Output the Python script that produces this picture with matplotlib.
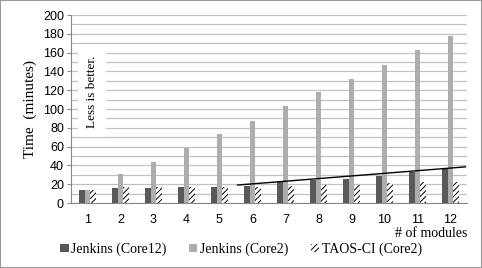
import numpy as np
import matplotlib
matplotlib.use("Agg")
import matplotlib.pyplot as plt
from matplotlib.patches import Rectangle

# values (minutes)
modules = [1, 2, 3, 4, 5, 6, 7, 8, 9, 10, 11, 12]
jenkins_core12 = [14, 16, 16, 17, 17, 18.5, 22, 24, 25.5, 29, 32.5, 36]
jenkins_core2 = [14, 31, 43.5, 59, 73, 87.5, 103, 118, 132, 147, 163, 178]
taos_core2 = [14, 16.5, 16.5, 17, 17, 17.5, 18, 19.5, 19.5, 21, 22.5, 22.5]
series_names = ["Jenkins (Core12)", "Jenkins (Core2)", "TAOS-CI (Core2)"]

serif = "Liberation Serif"
sans = "Liberation Sans"
plt.rcParams["hatch.linewidth"] = 0.7

fig = plt.figure(figsize=(4.82, 2.68), dpi=100)
ax = fig.add_axes([0.147, 0.2425, 0.822, 0.7015])

x = np.arange(len(modules))
w = 0.165
ax.bar(x - w, jenkins_core12, w, color="#595959", label=series_names[0], zorder=3)
ax.bar(x, jenkins_core2, w, color="#adadad", label=series_names[1], zorder=3)
ax.bar(x + w, taos_core2, w, color="white", edgecolor="black", linewidth=0,
       hatch="//////", label=series_names[2], zorder=3)

# linear trend of Core12 for the larger module counts
sel = np.array(modules) >= 6
k, b = np.polyfit(np.array(modules)[sel], np.array(jenkins_core12)[sel], 1)
tx = np.array([5.55, 12.45])
ax.plot(tx - 1, k * tx + b + 2, color="black", linewidth=1, zorder=4)

ax.set_xlim(-0.5, len(modules) - 0.5)
ax.set_ylim(0, 200)
ax.set_yticks(range(0, 201, 20))
ax.set_yticks(range(0, 201, 10), minor=True)
ax.grid(axis="y", which="both", color="#c0c0c0", linewidth=0.9, zorder=0)
ax.set_xticks(x)
ax.set_xticklabels([str(m) for m in modules], fontfamily=sans, fontsize=9)
for lab in ax.get_yticklabels():
    lab.set_fontfamily(sans)
    lab.set_fontsize(9)
ax.tick_params(axis="x", length=0, pad=8)
ax.tick_params(axis="y", which="major", length=3, color="#888888", pad=2)
ax.tick_params(axis="y", which="minor", length=0)
for s in ["top", "right"]:
    ax.spines[s].set_visible(False)
ax.spines["left"].set_color("#888888")
ax.spines["bottom"].set_color("#888888")

ax.set_ylabel("Time  (minutes)", fontfamily=serif, fontsize=11, labelpad=4)
ax.text(1.0, -0.128, "# of modules", transform=ax.transAxes, fontfamily=serif,
        fontsize=10, ha="right", va="top")

ax.text(0.14, 118, "Less is better.", rotation=90, fontfamily=serif, fontsize=9.5,
        ha="center", va="center", zorder=5,
        bbox=dict(facecolor="white", edgecolor="none", pad=6))

fig.legend(loc="center", bbox_to_anchor=(0.5, 0.07), ncol=3, frameon=False,
           prop={"family": serif, "size": 10}, handlelength=0.6, handleheight=0.6,
           handletextpad=0.2, columnspacing=1.6)

fig.patches.append(Rectangle((0, 0), 1, 1, transform=fig.transFigure, fill=False,
                             edgecolor="#999999", linewidth=1.5))

fig.savefig("out.png", dpi=100)
